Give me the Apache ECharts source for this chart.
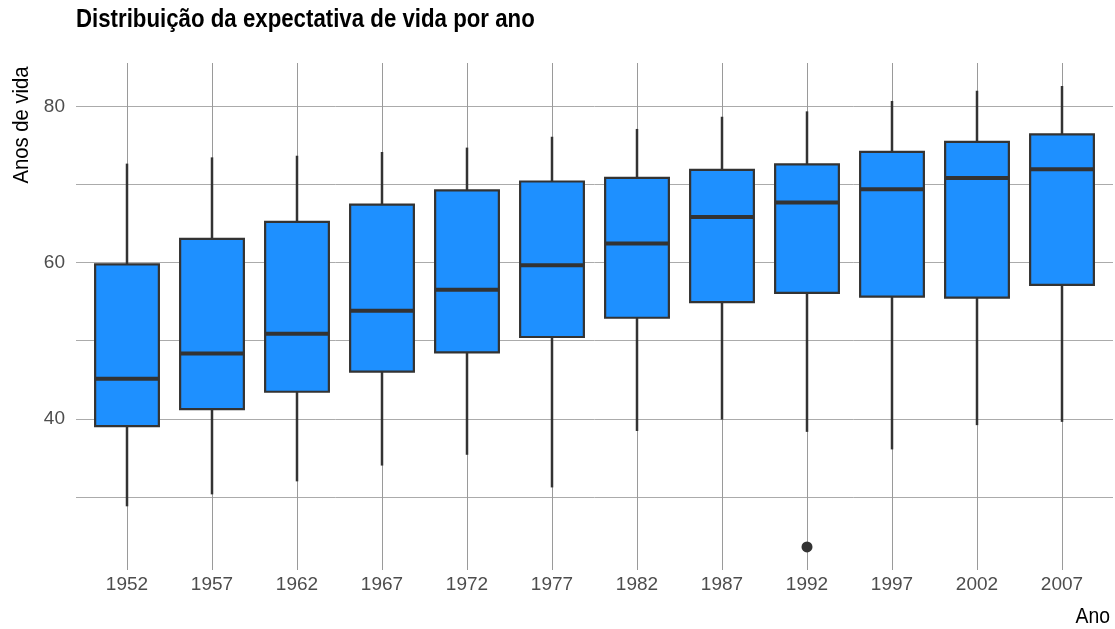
<!DOCTYPE html>
<html>
<head>
<meta charset="utf-8">
<script src="https://cdn.jsdelivr.net/npm/echarts@6/dist/echarts.min.js"></script>
<style>
  html, body { margin: 0; padding: 0; background: #ffffff; }
  #chart { width: 1115px; height: 629px; }
</style>
</head>
<body>
<div id="chart"></div>
<script>
// Life expectancy distribution per year (boxplot statistics)
const years       = ['1952','1957','1962','1967','1972','1977','1982','1987','1992','1997','2002','2007'];
const whiskerLow  = [28.801, 30.332, 31.997, 34.020, 35.400, 31.220, 38.445, 39.906, 38.333, 36.087, 39.193, 39.613];
const quart1      = [39.059, 41.248, 43.469, 46.034, 48.500, 50.475, 52.940, 54.940, 56.122, 55.634, 55.522, 57.160];
const medians     = [45.136, 48.361, 50.881, 53.825, 56.530, 59.672, 62.442, 65.834, 67.703, 69.394, 70.826, 71.936];
const quart3      = [59.765, 63.030, 65.218, 67.420, 69.248, 70.378, 70.835, 71.878, 72.583, 74.170, 75.455, 76.410];
const whiskerHigh = [72.670, 73.470, 73.680, 74.160, 74.720, 76.110, 77.110, 78.670, 79.360, 80.690, 82.000, 82.603];
// outliers: [year index (1-based), value]
const outliers    = [[9, 23.599]];
const yTickLabels = [40, 60, 80];
const yGridValues = [30, 40, 50, 60, 70, 80];

const positions = years.map((_, i) => i + 1);
const boxData = years.map((_, i) => [i + 1, whiskerLow[i], quart1[i], medians[i], quart3[i], whiskerHigh[i]]);

const sans = "'Liberation Sans', Arial, sans-serif";
const ink = '#333333';

function renderBox(params, api) {
  const x = api.value(0);
  const lo = api.coord([x, api.value(1)]);
  const q1 = api.coord([x, api.value(2)]);
  const md = api.coord([x, api.value(3)]);
  const q3 = api.coord([x, api.value(4)]);
  const hi = api.coord([x, api.value(5)]);
  const half = api.size([0.75, 0])[0] / 2;
  const cx = lo[0];
  return {
    type: 'group',
    children: [
      { type: 'line', shape: { x1: cx, y1: hi[1], x2: cx, y2: q3[1] },
        style: { stroke: ink, lineWidth: 2.5 } },
      { type: 'line', shape: { x1: cx, y1: q1[1], x2: cx, y2: lo[1] },
        style: { stroke: ink, lineWidth: 2.5 } },
      { type: 'rect', shape: { x: cx - half, y: q3[1], width: half * 2, height: q1[1] - q3[1] },
        style: { fill: '#1E90FF', stroke: ink, lineWidth: 2.2 } },
      { type: 'line', shape: { x1: cx - half, y1: md[1], x2: cx + half, y2: md[1] },
        style: { stroke: ink, lineWidth: 4 } }
    ]
  };
}

const chart = echarts.init(document.getElementById('chart'), null, { renderer: 'canvas' });
chart.setOption({
  animation: false,
  backgroundColor: '#ffffff',
  grid: { left: 76, right: 2, top: 63, bottom: 59 },
  xAxis: {
    type: 'value',
    min: 0.4, max: 12.6,
    axisLine: { show: false },
    axisTick: { show: false, customValues: positions },
    axisLabel: {
      customValues: positions,
      formatter: v => years[Math.round(v) - 1],
      color: '#4d4d4d', fontFamily: sans, fontSize: 19, margin: 5
    },
    splitLine: { show: true, lineStyle: { color: '#9a9a9a', width: 1 } }
  },
  yAxis: {
    type: 'value',
    min: 20.65, max: 85.55,
    axisLine: { show: false },
    axisTick: { show: false, customValues: yGridValues },
    axisLabel: {
      customValues: yTickLabels,
      color: '#4d4d4d', fontFamily: sans, fontSize: 19, margin: 11
    },
    splitLine: { show: true, lineStyle: { color: '#ababab', width: 1 } }
  },
  graphic: [
    { type: 'text', x: 76, y: 20, scaleX: 0.89,
      style: { text: 'Distribuição da expectativa de vida por ano', fill: '#000000',
               font: "bold 25px " + sans, textAlign: 'left', textVerticalAlign: 'middle' } },
    { type: 'text', x: 22, y: 125, rotation: Math.PI / 2, scaleX: 0.92,
      style: { text: 'Anos de vida', fill: '#000000', font: "22px " + sans,
               textAlign: 'center', textVerticalAlign: 'middle' } },
    { type: 'text', x: 1110, y: 617, scaleX: 0.88,
      style: { text: 'Ano', fill: '#000000', font: "22px " + sans,
               textAlign: 'right', textVerticalAlign: 'middle' } }
  ],
  series: [
    {
      type: 'custom',
      renderItem: renderBox,
      encode: { x: 0, y: [1, 2, 3, 4, 5] },
      data: boxData,
      z: 2
    },
    {
      type: 'scatter',
      data: outliers,
      symbolSize: 11,
      itemStyle: { color: ink, opacity: 1 },
      z: 3
    }
  ]
});
</script>
</body>
</html>
